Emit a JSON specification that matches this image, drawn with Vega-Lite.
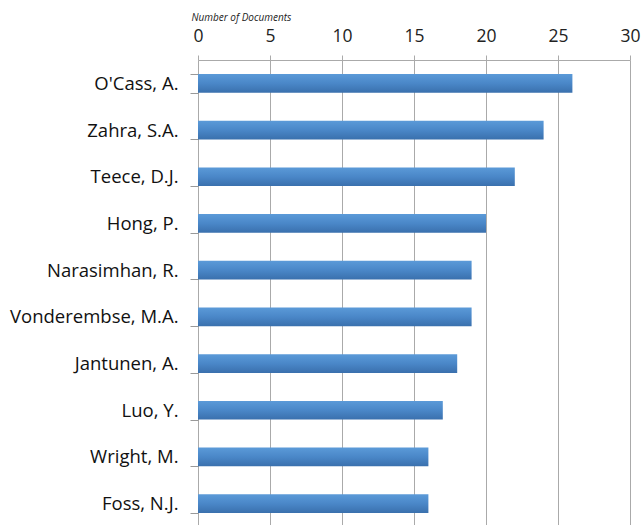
{
  "$schema": "https://vega.github.io/schema/vega-lite/v6.json",
  "autosize": "none",
  "width": 432,
  "height": 467,
  "padding": {"left": 198, "top": 60, "right": 11, "bottom": 0},
  "background": "white",
  "config": {"view": {"stroke": null}},
  "data": {"values": [
    {"author": "O'Cass, A.", "docs": 26},
    {"author": "Zahra, S.A.", "docs": 24},
    {"author": "Teece, D.J.", "docs": 22},
    {"author": "Hong, P.", "docs": 20},
    {"author": "Narasimhan, R.", "docs": 19},
    {"author": "Vonderembse, M.A.", "docs": 19},
    {"author": "Jantunen, A.", "docs": 18},
    {"author": "Luo, Y.", "docs": 17},
    {"author": "Wright, M.", "docs": 16},
    {"author": "Foss, N.J.", "docs": 16}
  ]},
  "mark": {
    "type": "bar",
    "color": {"gradient": "linear", "x1": 0, "y1": 0, "x2": 0, "y2": 1,
      "stops": [{"offset": 0, "color": "#5b9ad8"}, {"offset": 0.5, "color": "#4a87c8"}, {"offset": 1, "color": "#3a70ad"}]}
  },
  "encoding": {
    "y": {
      "field": "author", "type": "nominal", "sort": null,
      "scale": {"paddingInner": 0.6, "paddingOuter": 0.3},
      "axis": {
        "title": null, "domain": false, "grid": false,
        "ticks": true, "tickBand": "extent", "tickSize": 8, "tickColor": "#999", "tickWidth": 1,
        "labelFont": "Open Sans", "labelFontSize": 18.5, "labelColor": "#111", "labelPadding": 12
      }
    },
    "x": {
      "field": "docs", "type": "quantitative",
      "scale": {"domain": [0, 30], "nice": false},
      "axis": {
        "orient": "top", "values": [0, 5, 10, 15, 20, 25, 30],
        "title": "Number of Documents", "titleFont": "Open Sans", "titleFontStyle": "italic",
        "titleFontWeight": "normal", "titleFontSize": 10, "titleColor": "#222",
        "titleAnchor": "start", "titleAlign": "left", "titleX": -7, "titleY": -43, "titleBaseline": "middle",
        "grid": true, "gridColor": "#aaa", "gridWidth": 1,
        "domain": true, "domainColor": "#aaa",
        "ticks": true, "tickSize": 5, "tickColor": "#aaa",
        "labelFont": "Open Sans", "labelFontSize": 17.5, "labelColor": "#222", "labelPadding": 10,
        "labelFlush": false
      }
    }
  }
}
